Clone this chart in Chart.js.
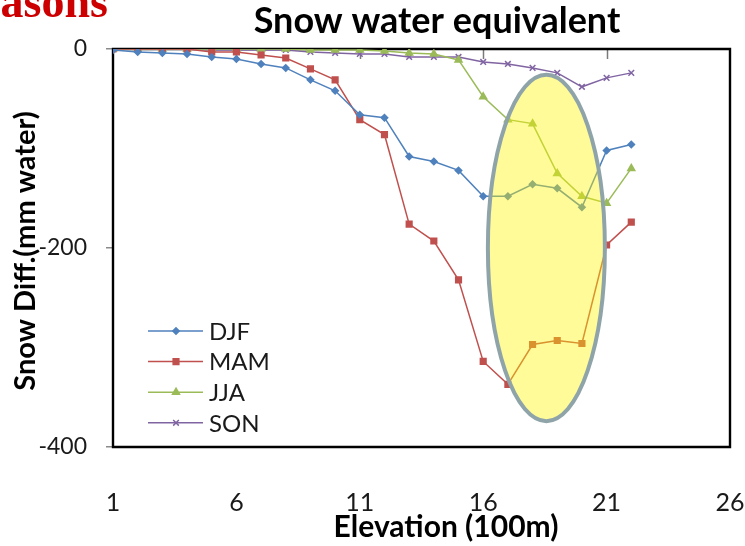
<!DOCTYPE html>
<html>
<head>
<meta charset="utf-8">
<script src="https://cdn.jsdelivr.net/npm/chart.js@4/dist/chart.umd.min.js"></script>
<style>
  html, body { margin: 0; padding: 0; background: #fff; }
  #wrap { width: 745px; height: 546px; }
</style>
</head>
<body>
<div id="wrap"><canvas id="c" width="745" height="546"></canvas></div>
<script>
// Elevation bins (x 100 m) and the seasonal snow water equivalent change (mm water)
const elevation = [1, 2, 3, 4, 5, 6, 7, 8, 9, 10, 11, 12, 13, 14, 15, 16, 17, 18, 19, 20, 21, 22];
const djf = [-1, -3, -4, -5, -8, -10, -15, -19, -31, -42, -66, -69, -108, -113, -122, -148, -148, -136, -140, -159, -102, -96];
const mam = [0, 0, 0, 0, -3, -3, -6, -9, -20, -31, -71, -86, -176, -193, -232, -314, -337, -297, -293, -296, -197, -174];
const jja = [0, 0, 0, 0, 0, 0, 0, 0, -1, -1, -1, -2, -4, -5, -11, -48, -71, -75, -125, -148, -155, -120];
const son = [0, 0, 0, 0, -1, -1, -1, -1, -3, -4, -5, -5, -8, -8, -8, -13, -15, -19, -24, -38, -29, -24];

const seriesNames = ['DJF', 'MAM', 'JJA', 'SON'];
const xTickValues = [1, 6, 11, 16, 21, 26];
const yTickValues = [-400, -200, 0];

// Highlighted high-elevation region (data units)
const highlight = { x: 18.56, y: -200, rx: 2.37, ry: 174 };

const FONT = 'Lato, "Open Sans", sans-serif';

function series(values) {
  return values.map((v, i) => ({ x: elevation[i], y: v }));
}

function makeSet(label, values, color, style, radius) {
  return {
    label: label,
    data: series(values),
    borderColor: color,
    backgroundColor: color,
    borderWidth: 1.5,
    pointStyle: style,
    pointRadius: radius,
    pointBorderWidth: 1.5,
    pointBorderColor: color,
    pointBackgroundColor: color,
    tension: 0,
    fill: false
  };
}

const datasets = [
  makeSet(seriesNames[0], djf, '#4f81bd', 'rectRot', 3.2),
  makeSet(seriesNames[1], mam, '#c0504d', 'rect', 4),
  makeSet(seriesNames[2], jja, '#9bbb59', 'triangle', 4),
  makeSet(seriesNames[3], son, '#8064a2', 'crossRot', 4)
];

// White page, plot frame and the inner tick marks on the zero line
const framePlugin = {
  id: 'frame',
  beforeDraw(chart) {
    const ctx = chart.ctx;
    ctx.save();
    ctx.fillStyle = '#fff';
    ctx.fillRect(0, 0, chart.width, chart.height);
    ctx.restore();
  },
  beforeDatasetsDraw(chart) {
    const { ctx, chartArea: a, scales } = chart;
    const y0 = scales.y.getPixelForValue(0);
    ctx.save();
    ctx.strokeStyle = '#7a7a7a';
    ctx.lineWidth = 1.5;
    xTickValues.slice(1, -1).forEach(v => {
      const px = Math.round(scales.x.getPixelForValue(v)) + 0.5;
      ctx.beginPath();
      ctx.moveTo(px, y0);
      ctx.lineTo(px, y0 + 10);
      ctx.stroke();
    });
    ctx.strokeStyle = '#000';
    ctx.lineWidth = 2.4;
    ctx.beginPath();
    ctx.rect(a.left, a.top, a.right - a.left, a.bottom - a.top);
    ctx.stroke();
    ctx.restore();
  }
};

// Semi-transparent ellipse over the high-elevation points
const ellipsePlugin = {
  id: 'highlightEllipse',
  afterDatasetsDraw(chart) {
    const { ctx, scales } = chart;
    const cx = scales.x.getPixelForValue(highlight.x);
    const cy = scales.y.getPixelForValue(highlight.y);
    const rx = scales.x.getPixelForValue(highlight.x + highlight.rx) - cx;
    const ry = scales.y.getPixelForValue(highlight.y - highlight.ry) - cy;
    ctx.save();
    ctx.beginPath();
    ctx.ellipse(cx, cy, Math.abs(rx), Math.abs(ry), 0, 0, Math.PI * 2);
    ctx.fillStyle = 'rgba(255, 245, 0, 0.40)';
    ctx.fill();
    ctx.lineWidth = 4;
    ctx.strokeStyle = '#8fa4a9';
    ctx.stroke();
    ctx.restore();
  }
};

// Legend inside the plot, titles and the slide heading
const textPlugin = {
  id: 'texts',
  afterDraw(chart) {
    const ctx = chart.ctx;
    ctx.save();

    // legend
    const rowY0 = 331, rowStep = 30.6;
    chart.data.datasets.forEach((ds, i) => {
      const y = rowY0 + i * rowStep;
      ctx.strokeStyle = ds.borderColor;
      ctx.lineWidth = 1.5;
      ctx.beginPath();
      ctx.moveTo(148, y);
      ctx.lineTo(203, y);
      ctx.stroke();
      ctx.fillStyle = ds.borderColor;
      Chart.helpers.drawPoint(ctx, {
        pointStyle: ds.pointStyle,
        radius: ds.pointRadius,
        borderWidth: 1.5,
        rotation: 0
      }, 176, y);
      ctx.fillStyle = '#1a1a1a';
      ctx.font = '24px ' + FONT;
      ctx.textAlign = 'left';
      ctx.textBaseline = 'middle';
      ctx.fillText(ds.label, 209, y + 1);
    });

    // chart title
    ctx.fillStyle = '#000';
    ctx.font = 'bold 36px ' + FONT;
    ctx.textAlign = 'center';
    ctx.textBaseline = 'alphabetic';
    ctx.fillText('Snow water equivalent', 437, 33);

    // x axis title
    ctx.font = 'bold 30px ' + FONT;
    ctx.textBaseline = 'middle';
    ctx.fillText('Elevation (100m)', 446, 527);

    // y axis title
    ctx.save();
    ctx.translate(26, 251);
    ctx.rotate(-Math.PI / 2);
    ctx.font = 'bold 29px ' + FONT;
    ctx.textAlign = 'center';
    ctx.textBaseline = 'middle';
    ctx.fillText('Snow Diff.(mm water)', 0, 0);
    ctx.restore();

    // slide heading
    ctx.fillStyle = '#cc0000';
    ctx.font = 'bold 46px "Liberation Serif", serif';
    ctx.textAlign = 'right';
    ctx.textBaseline = 'alphabetic';
    ctx.fillText('Seasons', 108, 17);

    ctx.restore();
  }
};

new Chart(document.getElementById('c'), {
  type: 'line',
  data: { datasets: datasets },
  options: {
    responsive: false,
    animation: false,
    devicePixelRatio: 1,
    layout: { padding: { top: 49, right: 15, left: 0, bottom: 0 } },
    plugins: {
      legend: { display: false },
      title: { display: false },
      tooltip: { enabled: false }
    },
    scales: {
      x: {
        type: 'linear',
        min: 1,
        max: 26,
        afterBuildTicks(scale) { scale.ticks = xTickValues.map(v => ({ value: v })); },
        afterFit(scale) {
          scale.height = 99;
          scale.paddingLeft = 0;
          scale.paddingRight = 0;
        },
        grid: { display: true, drawOnChartArea: false, drawTicks: false },
        border: { display: false },
        ticks: {
          padding: 41,
          color: '#1a1a1a',
          font: { family: FONT, size: 25 },
          maxRotation: 0,
          autoSkip: false
        }
      },
      y: {
        type: 'linear',
        min: -400,
        max: 0,
        afterBuildTicks(scale) { scale.ticks = yTickValues.map(v => ({ value: v })); },
        afterFit(scale) {
          scale.width = 113;
          scale.paddingTop = 0;
          scale.paddingBottom = 0;
        },
        grid: { display: true, drawOnChartArea: false, drawTicks: true, tickLength: 7, color: '#8a8a8a', lineWidth: 1.5 },
        border: { display: false },
        ticks: {
          padding: 19,
          color: '#1a1a1a',
          font: { family: FONT, size: 23 }
        }
      }
    }
  },
  plugins: [framePlugin, ellipsePlugin, textPlugin]
});
</script>
</body>
</html>
